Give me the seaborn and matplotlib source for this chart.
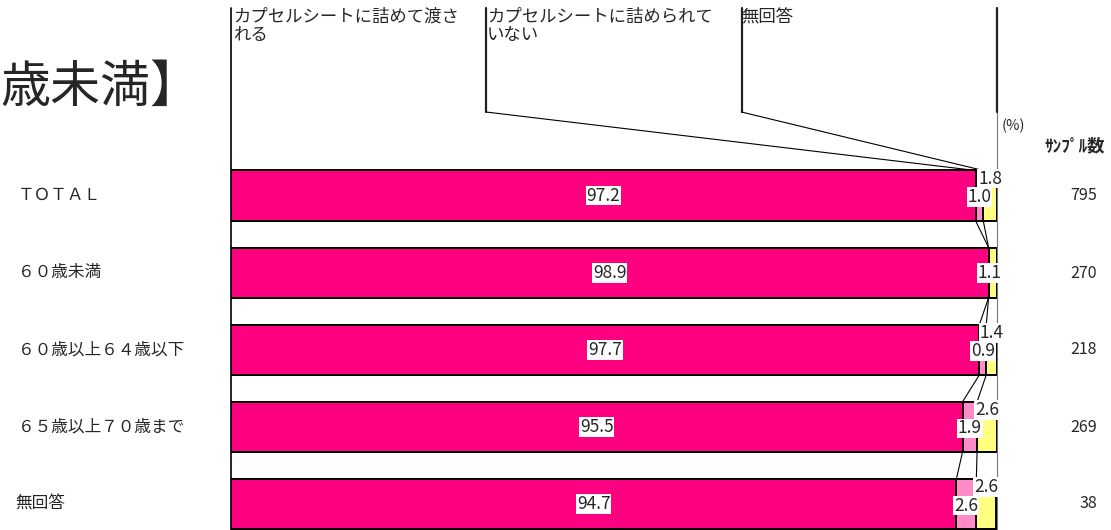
import pandas as pd
import matplotlib
matplotlib.use("Agg")
import matplotlib.pyplot as plt
import seaborn as sns

# data
groups = ["ＴＯＴＡＬ", "６０歳未満", "６０歳以上６４歳以下", "６５歳以上７０歳まで", "無回答"]
packed = [97.2, 98.9, 97.7, 95.5, 94.7]      # カプセルシートに詰めて渡される
not_packed = [1.0, 0.0, 0.9, 1.9, 2.6]        # カプセルシートに詰められていない
no_answer = [1.8, 1.1, 1.4, 2.6, 2.6]         # 無回答
samples = [795, 270, 218, 269, 38]
legend_labels = ["カプセルシートに詰めて渡さ\nれる", "カプセルシートに詰められて\nいない", "無回答"]

C_MAIN = "#FF0080"
C_PINK = "#FF8CC8"
C_YEL = "#FFFF80"

df = pd.DataFrame({"group": groups, "packed": packed,
                   "not_packed": not_packed, "no_answer": no_answer})
df["cum2"] = df["packed"] + df["not_packed"]
df["cum3"] = df["cum2"] + df["no_answer"]

sns.set_theme(style="white")
plt.rcParams["font.family"] = ["Noto Sans CJK JP", "DejaVu Sans"]

W, H = 1111, 530
fig = plt.figure(figsize=(W / 100, H / 100), dpi=100)
ax = fig.add_axes([231 / W, 0, (997 - 231) / W, 373 / H])

# stacked bars, drawn as overlapping cumulative bars
for col, c in [("cum3", C_YEL), ("cum2", C_PINK), ("packed", C_MAIN)]:
    sns.barplot(data=df, y="group", x=col, order=groups, orient="h", color=c,
                width=0.65, edgecolor="black", linewidth=1.4, saturation=1, ax=ax)

ax.set_xlim(0, 100)
ax.set_ylim(4.337, -0.5)
ax.set_xlabel("")
ax.set_ylabel("")
ax.set_xticks([])
ax.set_yticks([])
for s in ax.spines.values():
    s.set_visible(False)


def py(p):
    # pixel row -> category coordinate
    return (p - 195.5) / 77.1


half = 0.325
top, knee = py(8), py(112)

# left edge and 100% line
ax.plot([0, 0], [top, 4.337], color="black", lw=1.2, clip_on=False, zorder=1)
ax.plot([100, 100], [top, knee], color="#222222", lw=1.6, clip_on=False, zorder=1)
ax.plot([100, 100], [knee, 4.337], color="#777777", lw=0.8, clip_on=False, zorder=0)

# leader lines from legend headers to the first bar
ends = [df["packed"][0], df["cum2"][0]]
for k, xe in zip([1, 2], ends):
    xs = 100 * k / 3
    ax.plot([xs, xs], [top, knee], color="#222222", lw=1.6, clip_on=False, zorder=1)
    ax.plot([xs, xe], [knee, -half], color="black", lw=0.8, clip_on=False, zorder=1)

# connectors between bars
for i in range(len(groups) - 1):
    for col in ["packed", "cum2"]:
        ax.plot([df[col][i], df[col][i + 1]], [i + half, i + 1 - half],
                color="black", lw=0.8, zorder=1)

box = dict(facecolor="white", edgecolor="none", pad=0.6)
fs_num = 12.5
for i in range(len(groups)):
    ax.text(df["packed"][i] / 2, i, f"{packed[i]:.1f}", ha="center", va="center",
            fontsize=fs_num, bbox=box, zorder=5)
    xy = (df["cum2"][i] + df["cum3"][i]) / 2
    if not_packed[i] > 0:
        xp = (df["packed"][i] + df["cum2"][i]) / 2
        ax.text(xp, i + 0.02, f"{not_packed[i]:.1f}", ha="center", va="center",
                fontsize=fs_num, bbox=box, zorder=5)
        ax.text(xy, i - 0.22, f"{no_answer[i]:.1f}", ha="center", va="center",
                fontsize=fs_num, bbox=box, zorder=6)
    else:
        ax.text(xy - 0.4, i, f"{no_answer[i]:.1f}", ha="center", va="center",
                fontsize=fs_num, bbox=box, zorder=5)


def fx(p):
    return p / W


def fy(p):
    return 1 - p / H


fig.text(fx(0), fy(88), "歳未満】", ha="left", va="center", fontsize=36)

for x0, lab in zip([233, 487, 741], legend_labels):
    fig.text(fx(x0), fy(8), lab, ha="left", va="top", fontsize=12.5, linespacing=1.0)

fig.text(fx(1002), fy(126), "(%)", ha="left", va="center", fontsize=10.5)
fig.text(fx(1075), fy(146), "ｻﾝﾌﾟﾙ数", ha="center", va="center", fontsize=12.5,
         fontweight="bold")

centers = [195.5, 273, 350, 427, 504]
for g, n, c in zip(groups, samples, centers):
    fig.text(fx(15 if g == "無回答" else 18), fy(c), g, ha="left", va="center",
             fontsize=12)
    fig.text(fx(1097), fy(c), str(n), ha="right", va="center", fontsize=11.5)

fig.savefig("out.png", dpi=100)
plt.close(fig)
